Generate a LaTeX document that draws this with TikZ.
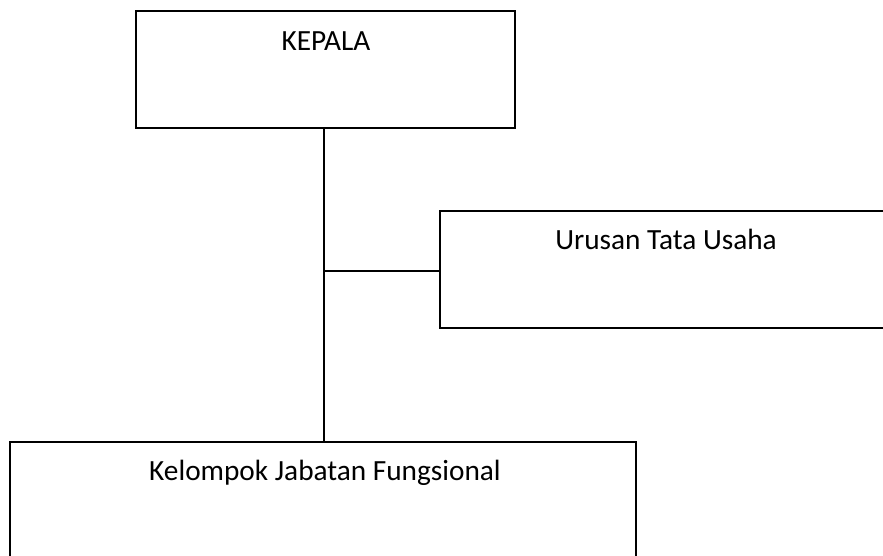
\documentclass[tikz,border=0pt]{standalone}
\usepackage{fontspec}
\setmainfont{Carlito}
\begin{document}
\begin{tikzpicture}[x=1pt,y=-1pt,
  box/.style={draw=black,line width=1.8pt},
  lbl/.style={font=\fontsize{29.3}{34}\selectfont,anchor=base,inner sep=0pt},
  conn/.style={draw=black,line width=1.8pt}]
\useasboundingbox (0,0) rectangle (883,555);
\clip (0,0) rectangle (883,555);
\fill[white] (0,0) rectangle (883,555);
% boxes
\draw[box] (136,11) rectangle (515,128);
\draw[box] (440,211) rectangle (900,328);
\draw[box] (10,442) rectangle (636,570);
\node[lbl] (kepala) at (326,50) {KEPALA};
\node[lbl] (urusan) at (666,249) {Urusan Tata Usaha};
\node[lbl] (kelompok) at (325,480) {Kelompok Jabatan Fungsional};
\coordinate (kb) at (324,128);
\coordinate (kt) at (324,442);
\coordinate (jn) at (324,271);
\coordinate (ul) at (440,271);
\draw[conn] (kb) -- (kt);
\draw[conn] (jn) -- (ul);
\end{tikzpicture}
\end{document}
